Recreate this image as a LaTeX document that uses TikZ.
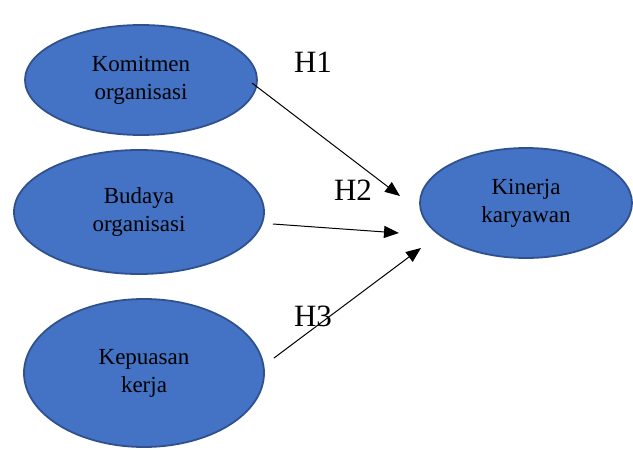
\documentclass[tikz,border=0pt]{standalone}
\usepackage{fontspec}
\setmainfont{Liberation Serif}
\usetikzlibrary{arrows.meta,shapes.geometric}
\definecolor{varfill}{HTML}{4472C4}
\definecolor{varline}{HTML}{2F528F}

\begin{document}
\begin{tikzpicture}[x=1pt,y=-1pt]
  \tikzset{var/.style={ellipse,draw=varline,fill=varfill,line width=1.8pt,inner sep=0pt,
      align=center,font=\fontsize{23}{28}\selectfont},
    hyp/.style={font=\fontsize{31}{34}\selectfont},
    path/.style={-{Triangle[length=15pt,width=12pt]},line width=1pt}}
  \useasboundingbox (0,0) rectangle (633,450);
  \node[var,minimum width=232pt,minimum height=110pt] (komitmen) at (141,80) {Komitmen\\organisasi};
  \node[var,minimum width=250pt,minimum height=124pt] (budaya) at (139,212) {Budaya\\organisasi};
  \node[var,minimum width=240pt,minimum height=148pt] (kepuasan) at (144,373) {Kepuasan\\kerja};
  \node[var,minimum width=212pt,minimum height=110pt] (kinerja) at (526,203) {Kinerja\\karyawan};
  % arrow ends
  \coordinate (h1s) at (252,83);  \coordinate (h1e) at (400,196);
  \coordinate (h2s) at (273,224); \coordinate (h2e) at (399,233);
  \coordinate (h3s) at (274,358); \coordinate (h3e) at (421,248);
  \draw[path] (h1s) -- (h1e);
  \draw[path] (h2s) -- (h2e);
  \draw[path] (h3s) -- (h3e);
  \node[hyp] (h1) at (313,62) {H1};
  \node[hyp] (h2) at (353,190) {H2};
  \node[hyp] (h3) at (313,316) {H3};
\end{tikzpicture}
\end{document}
